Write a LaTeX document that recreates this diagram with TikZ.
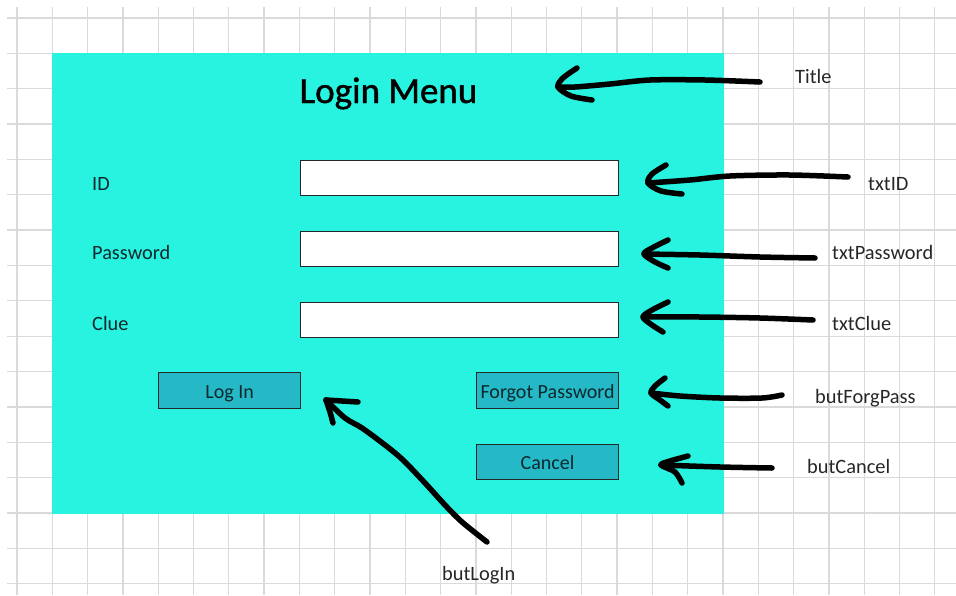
\documentclass[tikz,border=0pt]{standalone}
\usepackage{fontspec}
\setmainfont{Carlito}
\newfontfamily\headfont[FakeBold=1.2]{Carlito}
\usetikzlibrary{calc}
\definecolor{panel}{RGB}{40,243,224}
\definecolor{btnfill}{RGB}{37,185,199}
\definecolor{gridgray}{RGB}{218,218,218}
\definecolor{ink}{RGB}{12,40,44}
\begin{document}
\begin{tikzpicture}[x=1pt,y=-1pt,
  gridline/.style={draw=gridgray,line width=1.3pt},
  field/.style={draw=black!85,line width=1.3pt,fill=white,inner sep=0pt,
    anchor=north west,minimum width=318pt,minimum height=35pt},
  btn/.style={draw=black!85,line width=1.2pt,fill=btnfill,inner sep=0pt,
    anchor=north west,minimum width=142pt,minimum height=36pt,
    text height=15.5pt,text depth=0pt,
    font=\fontsize{20}{22}\selectfont,text=ink},
  lbl/.style={anchor=base west,inner sep=0pt,font=\fontsize{20.3}{23}\selectfont,text=ink},
  note/.style={anchor=base west,inner sep=0pt,font=\fontsize{20.4}{23}\selectfont,text=black!85},
  pen/.style={draw=black,line width=5.5pt,line cap=round,line join=round}]
\useasboundingbox (0,0) rectangle (956,595);

% spreadsheet grid
\foreach \i in {0,...,26}
  \draw[gridline] ({17+35.3*\i},7) -- ({17+35.3*\i},595);
\foreach \j in {0,...,16}
  \draw[gridline] (7,{18+35.35*\j}) -- (956,{18+35.35*\j});

% form panel
\node[fill=panel,inner sep=0pt,anchor=north west,minimum width=672pt,minimum height=461pt] (panel) at (52,53) {};

% title
\node[anchor=base,inner sep=0pt,font=\headfont\fontsize{37}{44}\selectfont] (title) at (388.5,103) {Login Menu};

% field captions
\node[lbl] (capID) at (92,190) {ID};
\node[lbl] (capPass) at (92,259) {Password};
\node[lbl] (capClue) at (92,330) {Clue};

% input fields
\node[field] (boxID) at (299.5,160) {};
\node[field] (boxPass) at (299.5,231) {};
\node[field] (boxClue) at (299.5,301.5) {};

% buttons
\node[btn] (bLogin) at (158,372) {Log In};
\node[btn] (bForgot) at (476,372) {Forgot Password};
\node[btn,minimum height=35pt] (bCancel) at (476,444) {Cancel};

% control names
\node[note] (nTitle) at (795,83) {Title};
\node[note] (nID) at (868,190) {txtID};
\node[note] (nPass) at (832,259) {txtPassword};
\node[note] (nClue) at (832,330) {txtClue};
\node[note] (nForgot) at (815,403) {butForgPass};
\node[note] (nCancel) at (807,473) {butCancel};
\node[note] (nLogin) at (442,580) {butLogIn};

% arrow ends
\coordinate (tTitle) at (760,82);   \coordinate (hTitle) at (558,87);
\coordinate (tID) at (848,177);     \coordinate (hID) at (648,183);
\coordinate (tPass) at (815,258);   \coordinate (hPass) at (644,254);
\coordinate (tClue) at (813,320);   \coordinate (hClue) at (643,317);
\coordinate (tForgot) at (782,395); \coordinate (hForgot) at (651,393);
\coordinate (tCancel) at (772,468); \coordinate (hCancel) at (661,465);
\coordinate (tLogin) at (487,542);  \coordinate (hLogin) at (326,400);

% hand-drawn pointers
\draw[pen] plot[smooth] coordinates {(tTitle) (705,80) (650,80) (610,84) (575,87) (hTitle)};
\draw[pen] plot[smooth] coordinates {(577,68) (563,78) (hTitle) (571,96) (592,100)};

\draw[pen] plot[smooth] coordinates {(tID) (790,175) (730,176) (690,180) (hID)};
\draw[pen] plot[smooth] coordinates {(666,165) (652,174) (hID) (661,191) (682,194)};

\draw[pen] plot[smooth] coordinates {(tPass) (760,257) (700,255) (hPass)};
\draw[pen] plot[smooth] coordinates {(668,240) (652,248) (hPass) (655,262) (668,268)};

\draw[pen] plot[smooth] coordinates {(tClue) (760,318) (700,317) (hClue)};
\draw[pen] plot[smooth] coordinates {(668,302) (652,310) (hClue) (652,325) (663,332)};

\draw[pen] plot[smooth] coordinates {(tForgot) (762,398) (720,398) (680,396) (hForgot)};
\draw[pen] plot[smooth] coordinates {(665,378) (655,386) (hForgot) (660,400) (668,406)};

\draw[pen] plot[smooth] coordinates {(tCancel) (720,467) (hCancel)};
\draw[pen] plot[smooth] coordinates {(688,456) (670,461) (hCancel) (675,472) (682,483)};

\draw[pen] plot[smooth] coordinates {(tLogin) (462,522) (445,505) (425,483) (403,460) (385,445) (362,428) (345,418) (hLogin)};
\draw[pen] (hLogin) -- (358,402);
\draw[pen] plot[smooth] coordinates {(hLogin) (330,412) (333,423)};
\end{tikzpicture}
\end{document}
